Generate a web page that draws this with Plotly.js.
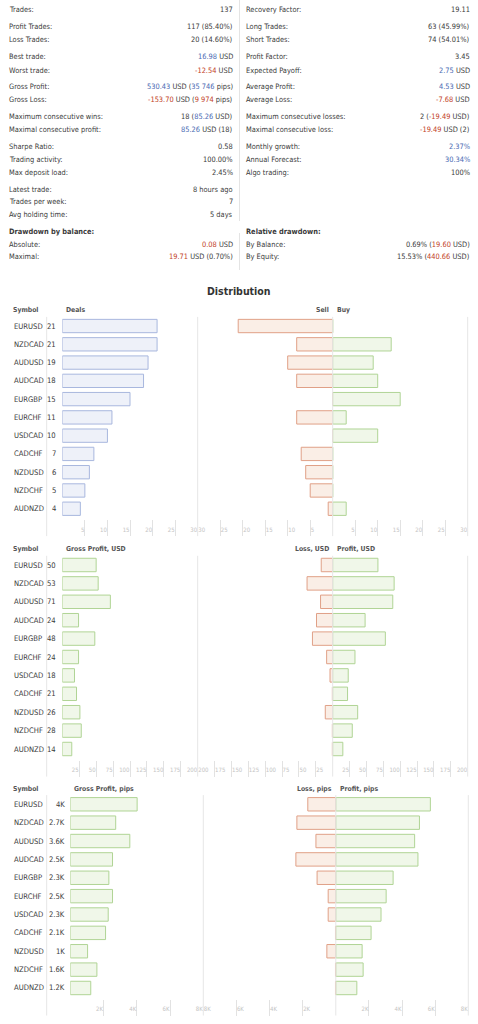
<!DOCTYPE html>
<html>
<head>
<meta charset="utf-8">
<script src="https://cdn.plot.ly/plotly-3.0.1.min.js"></script>
<style>html,body{margin:0;padding:0;background:#fff;}#chart{width:478px;height:1024px;}</style>
</head>
<body>
<div id="chart"></div>
<script>
// ---------------- DATA ----------------
const statsLeftLabels = ["Trades:", "Profit Trades:", "Loss Trades:", "Best trade:", "Worst trade:", "Gross Profit:", "Gross Loss:", "Maximum consecutive wins:", "Maximal consecutive profit:", "Sharpe Ratio:", "Trading activity:", "Max deposit load:", "Latest trade:", "Trades per week:", "Avg holding time:"];
const statsLeftValues = ["137", "117 (85.40%)", "20 (14.60%)", "[16.98] USD", "{-12.54} USD", "[530.43] USD ([35 746] pips)", "{-153.70} USD ({9 974} pips)", "18 ([85.26] USD)", "[85.26] USD (18)", "0.58", "100.00%", "2.45%", "8 hours ago", "7", "5 days"];
const statsRightLabels = ["Recovery Factor:", "Long Trades:", "Short Trades:", "Profit Factor:", "Expected Payoff:", "Average Profit:", "Average Loss:", "Maximum consecutive losses:", "Maximal consecutive loss:", "Monthly growth:", "Annual Forecast:", "Algo trading:"];
const statsRightValues = ["19.11", "63 (45.99%)", "74 (54.01%)", "3.45", "[2.75] USD", "[4.53] USD", "{-7.68} USD", "2 ({-19.49} USD)", "{-19.49} USD (2)", "[2.37%]", "[30.34%]", "100%"];
const ddLeftTitle = "Drawdown by balance:";
const ddLeftLabels = ["Absolute:", "Maximal:"];
const ddLeftValues = ["{0.08} USD", "{19.71} USD (0.70%)"];
const ddRightTitle = "Relative drawdown:";
const ddRightLabels = ["By Balance:", "By Equity:"];
const ddRightValues = ["0.69% ({19.60} USD)", "15.53% ({440.66} USD)"];

const chartTitle = "Distribution";
const symbols = ["EURUSD", "NZDCAD", "AUDUSD", "AUDCAD", "EURGBP", "EURCHF", "USDCAD", "CADCHF", "NZDUSD", "NZDCHF", "AUDNZD"];
const deals = [21, 21, 19, 18, 15, 11, 10, 7, 6, 5, 4];
const dealsSell = [21, 8, 10, 8, 0, 8, 0, 7, 6, 5, 1];
const dealsBuy = [0, 13, 9, 10, 15, 3, 10, 0, 0, 0, 3];
const grossProfitUsd = [50, 53, 71, 24, 48, 24, 18, 21, 26, 28, 14];
const lossUsd = [17, 38, 18, 24, 30, 9, 4, 0.5, 11, 0.5, 0.5];
const profitUsd = [67, 91, 89, 48, 78, 33, 23, 22, 37, 29, 15];
const grossProfitPips = [4020, 2730, 3580, 2540, 2320, 2540, 2280, 2120, 1040, 1600, 1230];
const lossPips = [1690, 2350, 1200, 2410, 1130, 460, 460, 20, 540, 20, 20];
const profitPips = [5710, 5050, 4760, 4960, 3460, 3040, 2730, 2130, 1590, 1650, 1270];

const headers = [
  {left: "Deals", sell: "Sell", buy: "Buy"},
  {left: "Gross Profit, USD", sell: "Loss, USD", buy: "Profit, USD"},
  {left: "Gross Profit, pips", sell: "Loss, pips", buy: "Profit, pips"}
];
const symbolHeader = "Symbol";
const dealsTicks = [0, 5, 10, 15, 20, 25, 30];
const usdTicks = [0, 25, 50, 75, 100, 125, 150, 175, 200];
const pipsTicks = [0, 2000, 4000, 6000, 8000];

// ---------------- LAYOUT HELPERS ----------------
const W = 478, H = 1024;
const PX = v => v / W;
const PY = v => 1 - v / H;
const FONT = "'DejaVu Sans Condensed', 'DejaVu Sans', sans-serif";
const BLUE = "#4a6ab3", RED = "#c2411f", TXT = "#3a3a3a";

function rich(s) {
  return s.replace(/\[([^\]]*)\]/g, '<span style="color:' + BLUE + '">$1</span>')
          .replace(/\{([^}]*)\}/g, '<span style="color:' + RED + '">$1</span>');
}
const annotations = [];
function ann(text, x, y, xanchor, opts) {
  opts = opts || {};
  annotations.push(Object.assign({
    text: text, x: x, y: y, xref: 'paper', yref: 'paper',
    xanchor: xanchor, yanchor: 'middle', showarrow: false,
    font: {family: FONT, size: opts.size || 7.4, color: opts.color || TXT},
    borderpad: 0
  }, opts.extra || {}));
}

// stats rows (pixel positions)
const rowY = [9.7, 26, 39.7, 56.7, 70, 86.7, 99.3, 116, 129.3, 146.7, 159.3, 172, 189, 201.7, 214.3];
const ddY = [231.7, 244.3, 256.7];
const L_LABEL = 8.3, L_VALUE = 233.5, R_LABEL = 245.3, R_VALUE = 471;

statsLeftLabels.forEach((t, i) => {
  ann(t, PX(L_LABEL), PY(rowY[i]), 'left');
  ann(rich(statsLeftValues[i]), PX(L_VALUE), PY(rowY[i]), 'right');
});
statsRightLabels.forEach((t, i) => {
  ann(t, PX(R_LABEL), PY(rowY[i]), 'left');
  ann(rich(statsRightValues[i]), PX(R_VALUE), PY(rowY[i]), 'right');
});
ann('<b>' + ddLeftTitle + '</b>', PX(L_LABEL), PY(ddY[0]), 'left');
ann('<b>' + ddRightTitle + '</b>', PX(R_LABEL), PY(ddY[0]), 'left');
ddLeftLabels.forEach((t, i) => {
  ann(t, PX(L_LABEL), PY(ddY[i + 1]), 'left');
  ann(rich(ddLeftValues[i]), PX(L_VALUE), PY(ddY[i + 1]), 'right');
});
ddRightLabels.forEach((t, i) => {
  ann(t, PX(R_LABEL), PY(ddY[i + 1]), 'left');
  ann(rich(ddRightValues[i]), PX(R_VALUE), PY(ddY[i + 1]), 'right');
});
ann('<b>' + chartTitle + '</b>', PX(239), PY(291), 'center', {size: 10.5, color: '#333'});

const shapes = [
  {type: 'line', xref: 'paper', yref: 'paper', x0: PX(239.5), x1: PX(239.5), y0: PY(0), y1: PY(221), line: {color: '#e4e4e4', width: 1}},
  {type: 'line', xref: 'paper', yref: 'paper', x0: PX(239.5), x1: PX(239.5), y0: PY(233), y1: PY(270), line: {color: '#e4e4e4', width: 1}}
];

// ---------------- DISTRIBUTION SECTIONS ----------------
const sections = [
  {top: 316.9, rowH: 18.27, headY: 310.3, lx0: 62.3, lx1: 197.7, c: 332.7, rx1: 467.7, valX: 58.3, headX: 65,
   left: deals, sell: dealsSell, buy: dealsBuy, leftCol: 'blue', leftLabels: deals.map(String),
   ticks: dealsTicks, tickText: v => v === 0 ? '' : String(v), max: 30},
  {top: 555.8, rowH: 18.4, headY: 549, lx0: 62.3, lx1: 197.7, c: 332.7, rx1: 467.7, valX: 58.3, headX: 65,
   left: grossProfitUsd, sell: lossUsd, buy: profitUsd, leftCol: 'green', leftLabels: grossProfitUsd.map(String),
   ticks: usdTicks, tickText: v => v === 0 ? '' : String(v), max: 200},
  {top: 795.1, rowH: 18.37, headY: 789, lx0: 70.3, lx1: 203.3, c: 335.8, rx1: 468.3, valX: 66.7, headX: 73.3,
   left: grossProfitPips, sell: lossPips, buy: profitPips, leftCol: 'green',
   leftLabels: grossProfitPips.map(v => (Math.round(v / 100) / 10) + 'K'),
   ticks: pipsTicks, tickText: v => v === 0 ? '' : (v / 1000) + 'K', max: 8000}
];

const STY = {
  blue: {fill: '#eef1f9', line: '#a8b7de'},
  green: {fill: '#f0f7e9', line: '#b0d495'},
  red: {fill: '#faeee6', line: '#e0a087'}
};

const layout = {
  width: W, height: H, margin: {l: 0, r: 0, t: 0, b: 0},
  paper_bgcolor: '#fff', plot_bgcolor: 'rgba(0,0,0,0)',
  showlegend: false, bargap: 0.27, hovermode: false,
  annotations: annotations, shapes: shapes
};
const traces = [];
const idx = symbols.map((s, i) => i);

sections.forEach((s, k) => {
  const n = 3 * k;
  const xa = 'x' + (n === 0 ? '' : n + 1), xb = 'x' + (n + 2), xc = 'x' + (n + 3);
  const ya = 'y' + (k === 0 ? '' : k + 1);
  const bottom = s.top + 12 * s.rowH;
  layout['yaxis' + (k === 0 ? '' : k + 1)] = {
    domain: [PY(bottom), PY(s.top)], range: [11.5, -0.5], anchor: xa,
    showticklabels: false, showgrid: false, zeroline: false, ticks: '', fixedrange: true
  };
  const tv = s.ticks, tt = tv.map(s.tickText);
  const axBase = {
    anchor: ya, showgrid: false, zeroline: false, showline: false,
    ticks: 'inside', ticklen: 16, tickwidth: 1, tickcolor: '#e2e2e2',
    tickvals: tv, ticktext: tt, tickangle: 0, ticklabelstandoff: -3,
    ticklabeloverflow: 'allow',
    tickfont: {family: FONT, size: 6, color: '#c4c4c4'},
    fixedrange: true
  };
  layout['xaxis' + (n === 0 ? '' : n + 1)] = Object.assign({}, axBase, {
    domain: [PX(s.lx0), PX(s.lx1)], range: [0, s.max], ticklabelposition: 'inside left', ticklabelshift: -1.5});
  layout['xaxis' + (n + 2)] = Object.assign({}, axBase, {
    domain: [PX(s.lx1), PX(s.c)], range: [s.max, 0], ticklabelposition: 'inside right', ticklabelshift: 1.5});
  layout['xaxis' + (n + 3)] = Object.assign({}, axBase, {
    domain: [PX(s.c), PX(s.rx1)], range: [0, s.max], ticklabelposition: 'inside left', ticklabelshift: -1.5});

  const bar = (x, xaxis, sty) => ({
    type: 'bar', orientation: 'h', x: x, y: idx, xaxis: xaxis, yaxis: ya,
    marker: {color: sty.fill, line: {color: sty.line, width: 1}}, hoverinfo: 'skip'
  });
  traces.push(bar(s.left, xa, STY[s.leftCol]));
  traces.push(bar(s.sell, xb, STY.red));
  traces.push(bar(s.buy, xc, STY.green));

  // separators
  const yd = {yref: ya + ' domain', y0: 0, y1: 1};
  const lc = {color: '#e6e6e6', width: 1};
  shapes.push(Object.assign({type: 'line', xref: 'paper', x0: PX(46.7), x1: PX(46.7), line: lc}, yd));
  shapes.push(Object.assign({type: 'line', xref: xb + ' domain', x0: 0, x1: 0, line: lc}, yd));
  shapes.push(Object.assign({type: 'line', xref: xc + ' domain', x0: 0, x1: 0, line: lc, layer: 'above'}, yd));
  shapes.push(Object.assign({type: 'line', xref: xc + ' domain', x0: 1, x1: 1, line: lc}, yd));

  // headers
  const hf = {size: 6.8, color: '#555'};
  ann('<b>' + symbolHeader + '</b>', PX(11.7), PY(s.headY), 'left', hf);
  ann('<b>' + headers[k].left + '</b>', PX(s.headX), PY(s.headY), 'left', hf);
  ann('<b>' + headers[k].sell + '</b>', PX(s.c - 3), PY(s.headY), 'right', hf);
  ann('<b>' + headers[k].buy + '</b>', PX(s.c + 3), PY(s.headY), 'left', hf);

  // row labels
  symbols.forEach((sym, i) => {
    annotations.push({text: sym, x: PX(11.7), y: i, xref: 'paper', yref: ya, xanchor: 'left', yanchor: 'middle',
      showarrow: false, font: {family: FONT, size: 7.6, color: TXT}});
    annotations.push({text: s.leftLabels[i], x: PX(s.valX), y: i, xref: 'paper', yref: ya, xanchor: 'right', yanchor: 'middle',
      showarrow: false, font: {family: FONT, size: 7.6, color: TXT}});
  });
});

Plotly.newPlot('chart', traces, layout, {staticPlot: true, displayModeBar: false});
</script>
</body>
</html>
